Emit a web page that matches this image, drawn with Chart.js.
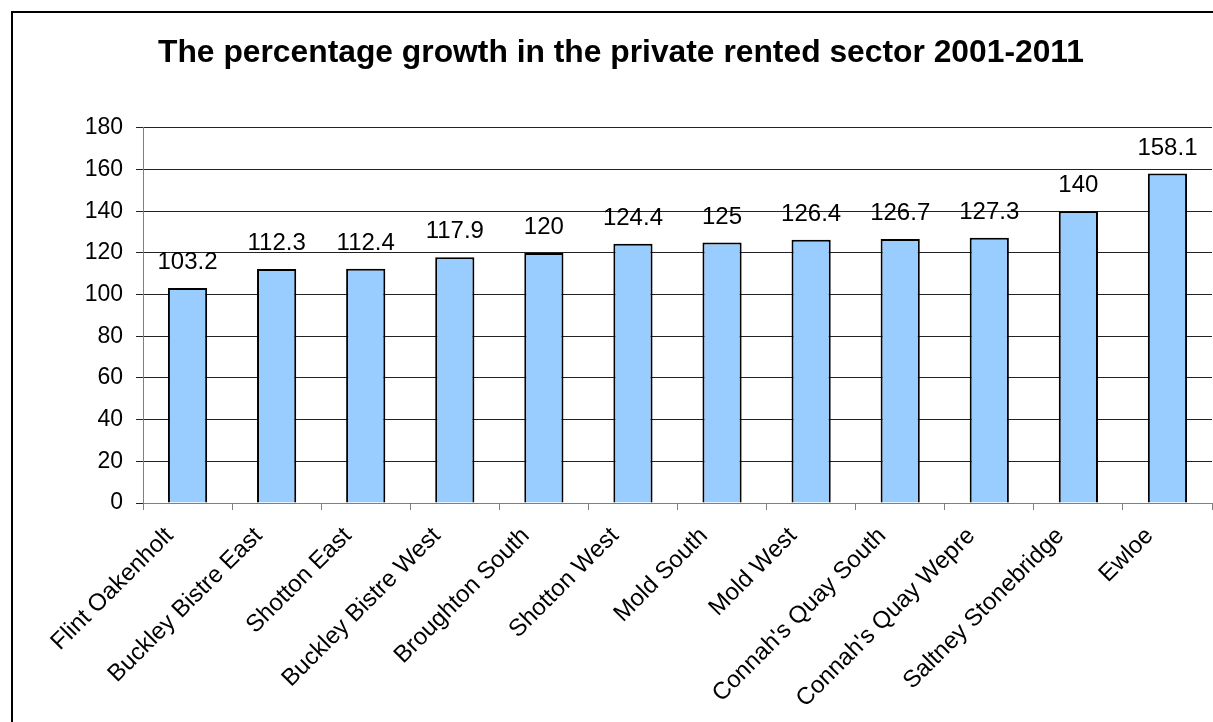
<!DOCTYPE html>
<html>
<head>
<meta charset="utf-8">
<script src="https://cdn.jsdelivr.net/npm/chart.js@4"></script>
<style>
  html, body { margin: 0; padding: 0; background: #fff; overflow: hidden; }
  #frame { position: absolute; left: 11px; top: 11px; width: 1240px; height: 760px; border: 2px solid #000; }
  #wrap { position: absolute; left: 0; top: 0; width: 1213px; height: 722px; }
</style>
</head>
<body>
<div id="frame"></div>
<div id="wrap"><canvas id="rentChart"></canvas></div>
<script>
// ward names and growth values
const wards = ['Flint Oakenholt', 'Buckley Bistre East', 'Shotton East', 'Buckley Bistre West',
  'Broughton South', 'Shotton West', 'Mold South', 'Mold West', "Connah's Quay South",
  "Connah's Quay Wepre", 'Saltney Stonebridge', 'Ewloe'];
const growth = [103.2, 112.3, 112.4, 117.9, 120, 124.4, 125, 126.4, 126.7, 127.3, 140, 158.1];
const yTicks = [0, 20, 40, 60, 80, 100, 120, 140, 160, 180];

const FONT = 'Liberation Sans, Arial, sans-serif';

// write the value above every bar
const valueLabels = {
  id: 'valueLabels',
  afterDatasetsDraw(chart) {
    const ctx = chart.ctx;
    const meta = chart.getDatasetMeta(0);
    ctx.save();
    ctx.font = '24px ' + FONT;
    ctx.fillStyle = '#000';
    ctx.textAlign = 'center';
    ctx.textBaseline = 'alphabetic';
    meta.data.forEach((bar, i) => {
      ctx.fillText(String(growth[i]), bar.x, bar.y - 19);
    });
    ctx.restore();
  }
};

new Chart(document.getElementById('rentChart'), {
  type: 'bar',
  data: {
    labels: wards,
    datasets: [{
      data: growth,
      backgroundColor: '#99CCFF',
      borderColor: '#000',
      borderWidth: 2,
      barPercentage: 0.44,
      categoryPercentage: 1
    }]
  },
  options: {
    responsive: true,
    maintainAspectRatio: false,
    animation: false,
    // left padding pushes the title centre to the right like the original
    layout: { padding: { top: 0, right: 1, left: 30, bottom: 0 } },
    plugins: {
      legend: { display: false },
      tooltip: { enabled: false },
      title: {
        display: true,
        text: 'The percentage growth in the private rented sector 2001-2011',
        color: '#000',
        font: { family: FONT, size: 31.8, weight: 'bold' },
        padding: { top: 34, bottom: 55.8 }
      }
    },
    scales: {
      x: {
        grid: { display: true, drawOnChartArea: false, drawTicks: true, tickLength: 7, color: '#808080' },
        border: { color: '#808080', width: 1 },
        ticks: {
          color: '#000',
          font: { family: FONT, size: 24 },
          minRotation: 45,
          maxRotation: 45,
          autoSkip: false,
          padding: 12,
          labelOffset: -18
        },
        afterFit(scale) { scale.height = 219; }
      },
      y: {
        min: 0,
        max: 180,
        afterBuildTicks(scale) { scale.ticks = yTicks.map(v => ({ value: v })); },
        grid: { color: '#222', tickLength: 7 },
        border: { color: '#808080', width: 1 },
        ticks: {
          color: '#000',
          font: { family: FONT, size: 23 },
          padding: 13
        },
        afterFit(scale) { scale.width = 113; }
      }
    }
  },
  plugins: [valueLabels]
});
</script>
</body>
</html>
